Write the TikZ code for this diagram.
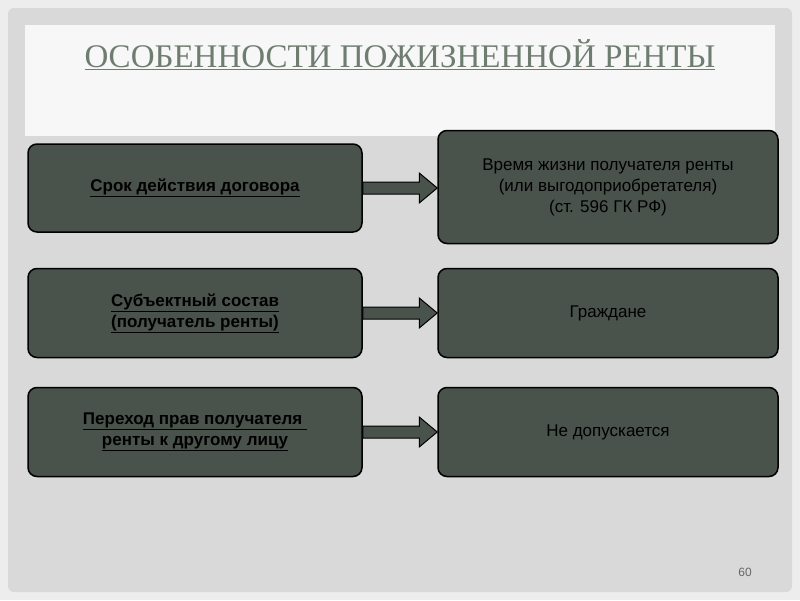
\documentclass[tikz,border=0pt]{standalone}
\usepackage{fontspec}
\setmainfont{Liberation Sans}
\newfontfamily\titlefont{Liberation Serif}
\begin{document}
\begin{tikzpicture}[x=1pt,y=-1pt,
  box/.style={draw=black,line width=1.5pt,fill=boxc,rounded corners=9pt,align=center,font=\fontsize{17}{21}\selectfont,text=black,inner sep=0pt},
  lbox/.style={box,font=\fontsize{17}{21}\selectfont\bfseries},
  arr/.style={draw=black,line width=1pt,fill=boxc}]
\definecolor{boxc}{HTML}{4A524C}
\definecolor{titc}{HTML}{6E7D70}
\useasboundingbox (0,0) rectangle (800,600);
\fill[white!93!black] (0,0) rectangle (800,600);
\fill[white!85!black,rounded corners=6pt] (8,8) rectangle (792,592);
\fill[white!97!black] (25,25) rectangle (775,136);
\node[font=\titlefont\fontsize{33}{36}\selectfont,text=titc] (title) at (400,55) {\underline{ОСОБЕННОСТИ ПОЖИЗНЕННОЙ РЕНТЫ}};
\node[lbox,minimum width=334pt,minimum height=88pt] (l1) at (195,188) {\underline{Срок действия договора}};
\node[lbox,minimum width=334pt,minimum height=89pt] (l2) at (195,313) {\underline{Субъектный состав}\\\underline{(получатель ренты)}};
\node[lbox,minimum width=334pt,minimum height=89pt] (l3) at (195,432) {\underline{Переход прав получателя }\\\underline{ренты к другому лицу}};
\node[box,minimum width=340pt,minimum height=113pt] (r1) at (608,187) {Время жизни получателя ренты\\(или выгодоприобретателя)\\(ст. 596 ГК РФ)};
\node[box,minimum width=340pt,minimum height=89pt] (r2) at (608,313) {Граждане};
\node[box,minimum width=340pt,minimum height=89pt] (r3) at (608,432) {Не допускается};
\foreach \a/\b in {l1/r1,l2/r2,l3/r3}{
  \path (\a.east) coordinate (s) (\b.west|-\a.east) coordinate (e);
  \draw[arr] ([yshift=-6pt]s) -- ([xshift=-18pt,yshift=-6pt]e) -- ([xshift=-18pt,yshift=-15pt]e) -- (e) -- ([xshift=-18pt,yshift=15pt]e) -- ([xshift=-18pt,yshift=6pt]e) -- ([yshift=6pt]s) -- cycle;
}
\node[font=\fontsize{12}{14}\selectfont,text=black!60] (pg) at (745,572) {60};
\end{tikzpicture}
\end{document}
